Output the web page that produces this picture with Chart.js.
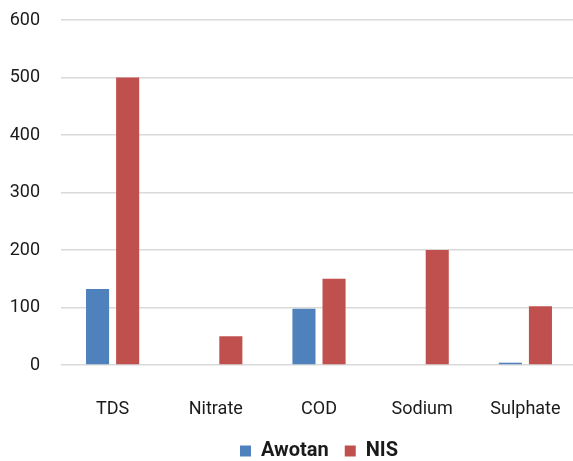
<!DOCTYPE html>
<html>
<head>
<meta charset="utf-8">
<script src="https://cdn.jsdelivr.net/npm/chart.js@4.4.1/dist/chart.umd.min.js"></script>
<style>
  html, body { margin: 0; padding: 0; background: #fff; overflow: hidden; }
  canvas { display: block; }
</style>
</head>
<body>
<canvas id="c" width="577" height="471"></canvas>
<script>
// Water quality parameters compared against the NIS limits
const categories = ['TDS', 'Nitrate', 'COD', 'Sodium', 'Sulphate'];
const awotan = [132, 0, 98, 0, 4];
const nis = [500, 50, 150, 200, 102];
const yTicks = [0, 100, 200, 300, 400, 500, 600];

const FONT = "Roboto, 'Liberation Sans', Arial, sans-serif";
const LEGEND_PAD = 16;

new Chart(document.getElementById('c'), {
  type: 'bar',
  data: {
    labels: categories,
    datasets: [
      { label: 'Awotan', data: awotan, backgroundColor: '#4F81BD' },
      { label: 'NIS', data: nis, backgroundColor: '#C0504D' }
    ]
  },
  options: {
    responsive: false,
    animation: false,
    categoryPercentage: 0.583,
    barPercentage: 0.767,
    layout: { padding: { top: 20, left: 0, right: 0, bottom: 0 } },
    plugins: {
      tooltip: { enabled: false },
      legend: {
        position: 'bottom',
        fullSize: false,
        labels: {
          boxWidth: 11,
          boxHeight: 11,
          padding: LEGEND_PAD,
          color: '#1a1a1a',
          font: { family: FONT, size: 20, weight: 'bold' }
        }
      }
    },
    scales: {
      x: {
        afterFit(scale) {
          scale.height = 76 - LEGEND_PAD;
          scale.paddingLeft = 0;
          scale.paddingRight = 0;
        },
        grid: { display: false },
        border: { display: false },
        ticks: {
          padding: 26,
          color: '#1a1a1a',
          font: { family: FONT, size: 18 }
        }
      },
      y: {
        min: 0,
        max: 600,
        afterFit(scale) {
          scale.width = 61;
          scale.paddingTop = 0;
          scale.paddingBottom = 0;
        },
        afterBuildTicks(scale) { scale.ticks = yTicks.map(v => ({ value: v })); },
        grid: { color: '#d9d9d9', lineWidth: 1.5, drawTicks: false },
        border: { display: false },
        ticks: {
          padding: 21,
          color: '#1a1a1a',
          font: { family: FONT, size: 18 }
        }
      }
    }
  }
});
</script>
</body>
</html>
